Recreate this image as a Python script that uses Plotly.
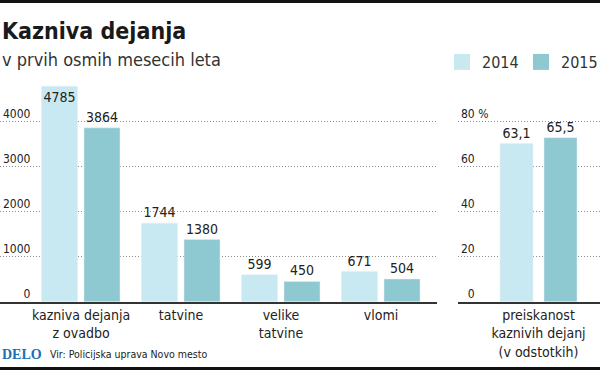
import plotly.graph_objects as go

# ---- data ----
categories = ["kazniva dejanja<br>z ovadbo", "tatvine", "velike<br>tatvine", "vlomi"]
years = ["2014", "2015"]
values_2014 = [4785, 1744, 599, 671]
values_2015 = [3864, 1380, 450, 504]

pct_category = ["preiskanost<br>kaznivih dejanj<br>(v odstotkih)"]
pct_labels_2014 = ["63,1"]
pct_labels_2015 = ["65,5"]
# bar heights as drawn in the reference picture
pct_heights_2014 = [70.3]
pct_heights_2015 = [72.9]

FS = "\u2007"  # figure space (digit width) for right-aligned tick labels
left_ticks = [0, 1000, 2000, 3000, 4000, 5000]
left_ticktext = [FS * 3 + "0", "1000", "2000", "3000", "4000", ""]
right_ticks = [0, 20, 40, 60, 80, 100]
right_ticktext = [FS + "0", "20", "40", "60", "80 %", ""]

# ---- style ----
C_LIGHT = "#c9e9f2"
C_DARK = "#8ec9d1"
TXT = "#222222"
FONT = "DejaVu Sans Condensed, Roboto, sans-serif"
W, H = 600, 371

def py(px):  # pixel from top -> paper y
    return (H - px) / H

y_dom = [py(301.7), py(76.7)]

x_idx = list(range(len(categories)))
VAL_FONT = dict(size=14, color=TXT, family=FONT)

fig = go.Figure()
fig.add_trace(go.Bar(
    x=x_idx, y=values_2014, name=years[0], marker_color=C_LIGHT,
    width=0.36, offset=-0.395,
    text=[str(v) for v in values_2014],
    textposition=["inside", "outside", "outside", "outside"],
    insidetextanchor="end", constraintext="none", textangle=0,
    textfont=VAL_FONT, insidetextfont=VAL_FONT, outsidetextfont=VAL_FONT,
    cliponaxis=False, showlegend=False,
    xaxis="x", yaxis="y",
))
fig.add_trace(go.Bar(
    x=x_idx, y=values_2015, name=years[1], marker_color=C_DARK,
    width=0.36, offset=0.03,
    text=[str(v) for v in values_2015], textposition="outside",
    constraintext="none", textangle=0, textfont=VAL_FONT,
    cliponaxis=False, showlegend=False,
    xaxis="x", yaxis="y",
))
fig.add_trace(go.Bar(
    x=[0], y=pct_heights_2014, name=years[0], marker_color=C_LIGHT,
    width=0.33, offset=-0.385,
    text=pct_labels_2014, textposition="outside", constraintext="none",
    textangle=0, textfont=VAL_FONT,
    cliponaxis=False, showlegend=False,
    xaxis="x2", yaxis="y2",
))
fig.add_trace(go.Bar(
    x=[0], y=pct_heights_2015, name=years[1], marker_color=C_DARK,
    width=0.33, offset=0.055,
    text=pct_labels_2015, textposition="outside", constraintext="none",
    textangle=0, textfont=VAL_FONT,
    cliponaxis=False, showlegend=False,
    xaxis="x2", yaxis="y2",
))
# legend entries (square swatches, no data drawn)
for yr, col in zip(years, [C_LIGHT, C_DARK]):
    fig.add_trace(go.Scatter(
        x=[None], y=[None], mode="markers", name=yr,
        marker=dict(symbol="square", size=16, color=col),
        showlegend=True, xaxis="x2", yaxis="y2", hoverinfo="skip",
    ))

axis_common = dict(fixedrange=True)
grid = dict(showgrid=True, gridcolor="#8c8c8c", griddash="1px,2px", gridwidth=1,
            zeroline=False, ticks="", ticklabelposition="inside top",
            tickfont=dict(size=12, color=TXT, family=FONT))
xtick_font = dict(size=14, color=TXT, family=FONT)

fig.update_layout(
    width=W, height=H, autosize=False,
    margin=dict(l=0, r=0, t=0, b=0, autoexpand=False),
    paper_bgcolor="white", plot_bgcolor="white",
    font=dict(family=FONT, color=TXT),
    barmode="overlay",
    xaxis=dict(domain=[0, 437 / W], range=[-0.81, 3.56],
               tickvals=x_idx, ticktext=categories, showgrid=False,
               zeroline=False, showline=True, linecolor="#333333", linewidth=1.5,
               ticks="", tickfont=xtick_font, anchor="y", **axis_common),
    yaxis=dict(domain=y_dom, range=[0, 5000], tickvals=left_ticks,
               ticktext=left_ticktext, anchor="x", **grid, **axis_common),
    xaxis2=dict(domain=[458 / W, 1], range=[-0.805, 0.615],
                tickvals=[0], ticktext=pct_category, showgrid=False,
                zeroline=False, showline=True, linecolor="#333333", linewidth=1.5,
                ticks="", tickfont=xtick_font, anchor="y2", **axis_common),
    yaxis2=dict(domain=y_dom, range=[0, 100], tickvals=right_ticks,
                ticktext=right_ticktext, anchor="x2", **grid, **axis_common),
    legend=dict(orientation="h", x=1, y=py(62), xanchor="right",
                yanchor="middle", font=dict(size=16, color="#333333", family=FONT),
                bgcolor="rgba(0,0,0,0)", traceorder="normal",
                entrywidth=34, entrywidthmode="pixels", itemwidth=30),
    showlegend=True,
    shapes=[
        dict(type="line", xref="paper", yref="paper", x0=0, x1=1,
             y0=py(1.5), y1=py(1.5), line=dict(color="#111111", width=3)),
        dict(type="line", xref="paper", yref="paper", x0=0, x1=1,
             y0=py(368.5), y1=py(368.5), line=dict(color="#111111", width=3)),
    ],
    annotations=[
        dict(text="<b>Kazniva dejanja</b>", x=0, y=py(31), xref="paper", yref="paper",
             xanchor="left", yanchor="middle", showarrow=False,
             font=dict(size=23, color="#1a1a1a", family=FONT)),
        dict(text="v prvih osmih mesecih leta", x=0, y=py(59), xref="paper", yref="paper",
             xanchor="left", yanchor="middle", showarrow=False,
             font=dict(size=18, color="#333333", family=FONT)),
        dict(text="<b>DELO</b>", x=0, y=py(354), xref="paper", yref="paper",
             xanchor="left", yanchor="middle", showarrow=False,
             font=dict(size=14, color="#1b6fb8", family="Liberation Serif, DejaVu Serif, serif")),
        dict(text="Vir: Policijska uprava Novo mesto", x=48 / W, y=py(354), xref="paper", yref="paper",
             xanchor="left", yanchor="middle", showarrow=False,
             font=dict(size=10.5, color=TXT, family=FONT)),
    ],
)

fig.write_html(
    "out.html",
    config={"responsive": False, "displayModeBar": False},
    default_width="600px", default_height="371px",
    post_script="var s=document.createElement('style');s.innerHTML='html,body{margin:0;padding:0}';document.head.appendChild(s);",
)
